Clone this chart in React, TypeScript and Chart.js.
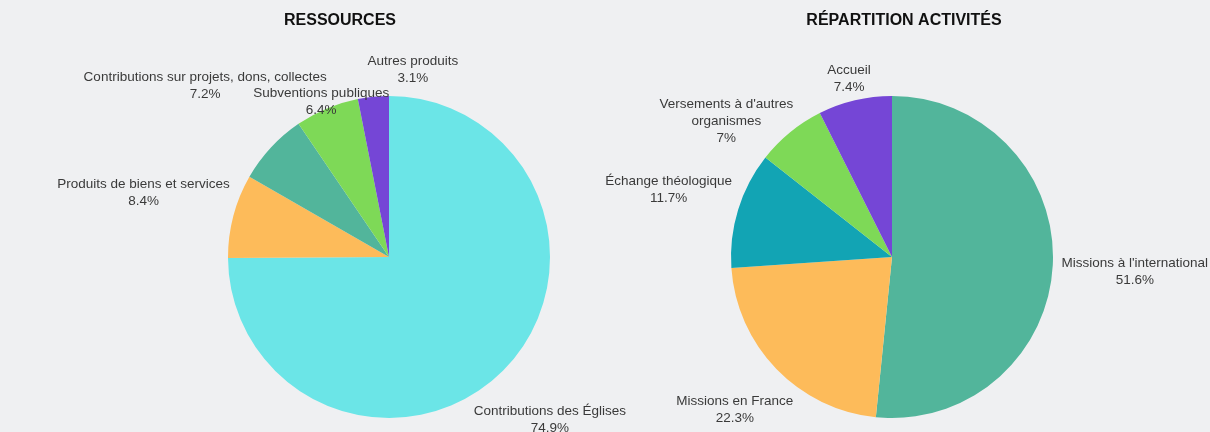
import React, { useEffect, useRef } from "react";
import { Chart, registerables } from "chart.js";

Chart.register(...registerables);

// ---- Data ----
const resTitle = "RESSOURCES";
const resLabels = [
  "Contributions des Églises",
  "Produits de biens et services",
  "Contributions sur projets, dons, collectes",
  "Subventions publiques",
  "Autres produits",
];
const resValues = [74.9, 8.4, 7.2, 6.4, 3.1];
const resColors = ["#6be5e7", "#fdbb5a", "#52b59b", "#7ed957", "#7546d6"];

const actTitle = "RÉPARTITION ACTIVITÉS";
const actLabels = [
  "Missions à l'international",
  "Missions en France",
  "Échange théologique",
  "Versements à d'autres\norganismes",
  "Accueil",
];
const actValues = [51.6, 22.3, 11.7, 7, 7.4];
const actColors = ["#52b59b", "#fdbb5a", "#12a4b4", "#7ed957", "#7546d6"];

// label adjustments (to avoid overlaps, as in the reference)
const resLabelNudges = [[-3, 0], [-1, 0], [11, 9], [12, 36], [42, -2]];
const actLabelNudges = [[4, 3], [0, 0], [-3, 1], [-22, 40], [0, 3]];

const FONT = "'Liberation Sans', Arial, Helvetica, sans-serif";

const outsideLabels = {
  id: "outsideLabels",
  afterDatasetsDraw(chart: any, _args: any, opts: any) {
    const ctx = chart.ctx;
    const meta = chart.getDatasetMeta(0);
    const ds = chart.data.datasets[0];
    ctx.save();
    ctx.font = `${opts.size}px ${FONT}`;
    ctx.fillStyle = opts.color;
    ctx.textAlign = "center";
    ctx.textBaseline = "middle";
    meta.data.forEach((arc: any, i: number) => {
      const p = arc.getProps(["x", "y", "startAngle", "endAngle", "outerRadius"], true);
      const mid = (p.startAngle + p.endAngle) / 2;
      const ux = Math.cos(mid);
      const uy = Math.sin(mid);
      const lines = String(chart.data.labels[i]).split("\n").concat([`${ds.data[i]}%`]);
      const w = Math.max(...lines.map((l: string) => ctx.measureText(l).width));
      const h = lines.length * opts.lineHeight;
      const d = p.outerRadius + opts.gap + (Math.abs(ux) * w) / 2 + (Math.abs(uy) * h) / 2;
      const n = (opts.nudges && opts.nudges[i]) || [0, 0];
      const cx = p.x + ux * d + n[0];
      const cy = p.y + uy * d + n[1];
      lines.forEach((l: string, k: number) => {
        ctx.fillText(l, cx, cy - h / 2 + opts.lineHeight * (k + 0.5));
      });
    });
    ctx.restore();
  },
};

const headTitle = {
  id: "headTitle",
  afterDraw(chart: any, _args: any, opts: any) {
    const ctx = chart.ctx;
    ctx.save();
    ctx.font = `bold ${opts.size}px ${FONT}`;
    ctx.fillStyle = opts.color;
    ctx.textAlign = "center";
    ctx.textBaseline = "middle";
    ctx.fillText(opts.text, opts.x, opts.y);
    ctx.restore();
  },
};

function PieChart(props: {
  labels: string[];
  values: number[];
  colors: string[];
  title: string;
  titleX: number;
  nudges: number[][];
  padding: { left: number; right: number; top: number; bottom: number };
  left: number;
}) {
  const ref = useRef<HTMLCanvasElement | null>(null);
  useEffect(() => {
    if (!ref.current) return;
    const chart = new Chart(ref.current, {
      type: "pie",
      data: {
        labels: props.labels,
        datasets: [
          {
            data: props.values,
            backgroundColor: props.colors,
            borderWidth: 0,
          },
        ],
      },
      options: {
        animation: false,
        responsive: false,
        devicePixelRatio: 1,
        layout: { padding: props.padding },
        events: [],
        plugins: {
          legend: { display: false },
          tooltip: { enabled: false },
          title: { display: false },
          outsideLabels: {
            size: 13.5,
            lineHeight: 17,
            gap: 4,
            color: "#3a3a3a",
            nudges: props.nudges,
          },
          headTitle: {
            text: props.title,
            x: props.titleX,
            y: 20.5,
            size: 16,
            color: "#111111",
          },
        } as any,
      },
      plugins: [outsideLabels, headTitle],
    });
    return () => chart.destroy();
  }, []);
  return (
    <canvas
      ref={ref}
      width={640}
      height={432}
      style={{ position: "absolute", left: props.left, top: 0, width: 640, height: 432 }}
    />
  );
}

export default function App() {
  useEffect(() => {
    document.body.style.margin = "0";
    document.body.style.background = "#eff0f2";
  }, []);
  return (
    <div
      style={{
        position: "relative",
        width: 1210,
        height: 432,
        background: "#eff0f2",
        overflow: "hidden",
      }}
    >
      <PieChart
        labels={resLabels}
        values={resValues}
        colors={resColors}
        title={resTitle}
        titleX={340}
        nudges={resLabelNudges}
        padding={{ left: 228, right: 90, top: 96, bottom: 14 }}
        left={0}
      />
      <PieChart
        labels={actLabels}
        values={actValues}
        colors={actColors}
        title={actTitle}
        titleX={334}
        nudges={actLabelNudges}
        padding={{ left: 161, right: 157, top: 96, bottom: 14 }}
        left={570}
      />
    </div>
  );
}
